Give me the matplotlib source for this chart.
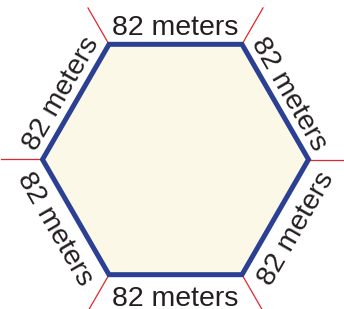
import numpy as np
import matplotlib
matplotlib.use("Agg")
import matplotlib.pyplot as plt
from matplotlib.patches import Polygon

# data
side_labels = ["82 meters"] * 6
center = (175.5, 149.5)   # pixel space, y up
radius = 133.0

W, H = 344, 309
fig = plt.figure(figsize=(W / 100, H / 100), dpi=100)
ax = fig.add_axes([0, 0, 1, 1])
ax.set_xlim(0, W)
ax.set_ylim(0, H)
ax.axis("off")

ang = np.deg2rad(np.arange(6) * 60.0)
vx = center[0] + radius * np.cos(ang)
vy = center[1] + radius * np.sin(ang)

# red tick lines out from each corner
for x, y, a in zip(vx, vy, ang):
    ax.plot([x, x + 42 * np.cos(a)], [y, y + 42 * np.sin(a)],
            color="#E3262B", lw=0.9, zorder=1)

hexagon = Polygon(np.column_stack([vx, vy]), closed=True, facecolor="#FCF8E8",
                  edgecolor="#2B3F93", lw=3.6, joinstyle="miter", zorder=2)
ax.add_patch(hexagon)

for k, lab in enumerate(side_labels):
    mx = (vx[k] + vx[(k + 1) % 6]) / 2
    my = (vy[k] + vy[(k + 1) % 6]) / 2
    na = np.deg2rad(30 + 60 * k)
    d = 9 if k < 3 else 31
    rot = (120 + 60 * k) % 180
    if rot > 90:
        rot -= 180
    ax.text(mx + d * np.cos(na), my + d * np.sin(na), lab,
            rotation=rot, rotation_mode="anchor", ha="center", va="baseline",
            fontsize=20.5, family="Liberation Sans", color="#231F20", zorder=3)

fig.savefig("out.png", dpi=100)
